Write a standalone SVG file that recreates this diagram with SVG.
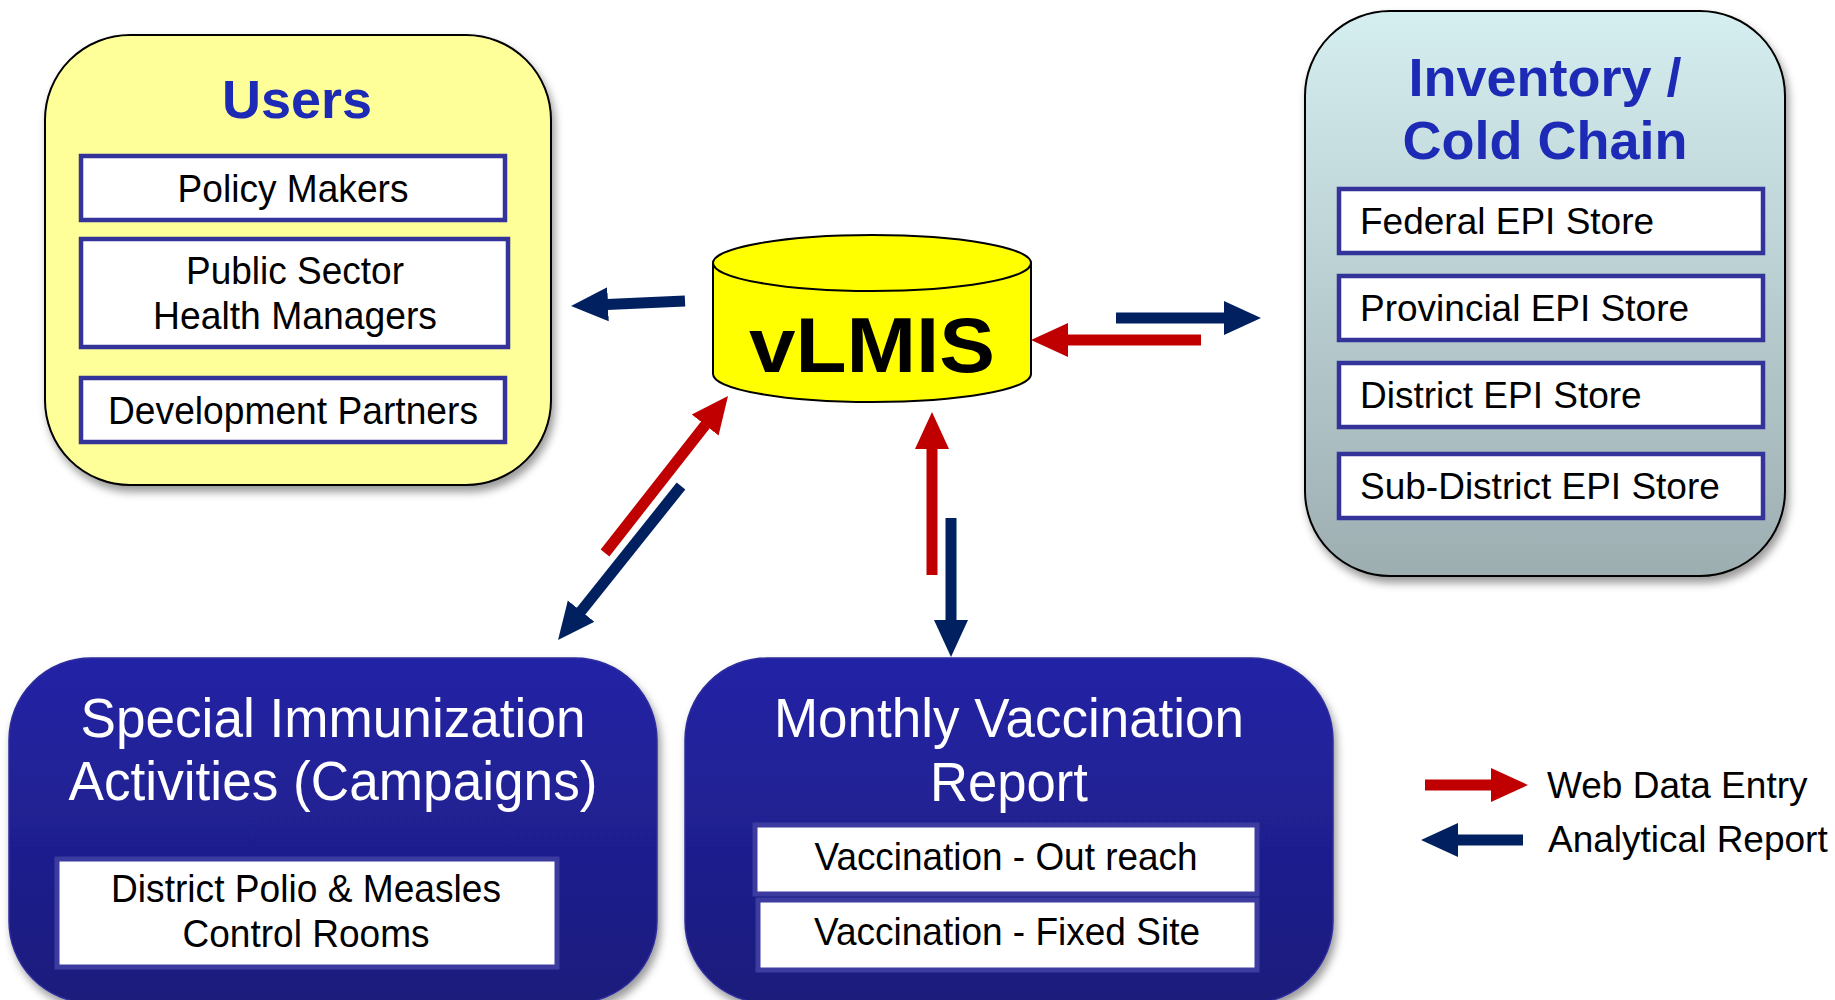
<svg xmlns="http://www.w3.org/2000/svg" width="1835" height="1000" viewBox="0 0 1835 1000">
<defs>
<style>
text{font-family:"Liberation Sans",Arial,sans-serif;}
.title{font-weight:bold;fill:#1C2AB5;font-size:54px;text-anchor:middle;}
.item{fill:#000;font-size:39px;text-anchor:middle;}
.store{fill:#000;font-size:37px;}
.wtitle{fill:#fff;font-size:55px;text-anchor:middle;}
.ibox{fill:#fff;stroke:#333399;stroke-width:4.5;}
.bbox{fill:#fff;stroke:#3B3BA0;stroke-width:5;}
.red{stroke:#C00000;stroke-width:11;fill:none;marker-end:url(#hr);}
.blue{stroke:#002060;stroke-width:11;fill:none;marker-end:url(#hb);}
.legend{fill:#000;font-size:37px;}
</style>
<filter id="sh" x="-10%" y="-10%" width="125%" height="125%">
<feDropShadow dx="3" dy="6" stdDeviation="4" flood-color="#000" flood-opacity="0.4"/>
</filter>
<linearGradient id="gInv" x1="0" y1="0" x2="0" y2="1">
<stop offset="0" stop-color="#D5EEF0"/>
<stop offset="1" stop-color="#9DAEB1"/>
</linearGradient>
<linearGradient id="gBlue" x1="0" y1="0" x2="0" y2="1">
<stop offset="0" stop-color="#2424A6"/>
<stop offset="1" stop-color="#1B1B7C"/>
</linearGradient>
<marker id="hr" markerUnits="userSpaceOnUse" viewBox="-1 -18 38 36" markerWidth="38" markerHeight="36" refX="0" refY="0" orient="auto">
<path d="M-1,-17 L36,0 L-1,17 Z" fill="#C00000"/>
</marker>
<marker id="hb" markerUnits="userSpaceOnUse" viewBox="-1 -18 38 36" markerWidth="38" markerHeight="36" refX="0" refY="0" orient="auto">
<path d="M-1,-17 L36,0 L-1,17 Z" fill="#002060"/>
</marker>
</defs>
<rect width="1835" height="1000" fill="#fff"/>

<g id="users">
<rect x="45" y="35" width="506" height="450" rx="85" ry="85" fill="#FFFF99" stroke="#000" stroke-width="2" filter="url(#sh)"/>
<text class="title" x="297" y="118">Users</text>
<rect class="ibox" x="81" y="156" width="424" height="64"/>
<text class="item" x="293" y="202" textLength="231" lengthAdjust="spacingAndGlyphs">Policy Makers</text>
<rect class="ibox" x="81" y="239" width="427" height="108"/>
<text class="item" x="295" y="284" textLength="218" lengthAdjust="spacingAndGlyphs">Public Sector</text>
<text class="item" x="295" y="329" textLength="284" lengthAdjust="spacingAndGlyphs">Health Managers</text>
<rect class="ibox" x="81" y="378" width="424" height="64"/>
<text class="item" x="293" y="424" textLength="370" lengthAdjust="spacingAndGlyphs">Development Partners</text>
</g>

<g id="vlmis">
<path d="M713,263 V374 A159,28 0 0 0 1031,374 V263 Z" fill="#FFFF00" stroke="#000" stroke-width="2"/>
<ellipse cx="872" cy="263" rx="159" ry="28" fill="#FFFF00" stroke="#000" stroke-width="2"/>
<text x="872" y="372" font-size="78" font-weight="bold" text-anchor="middle" textLength="246" lengthAdjust="spacingAndGlyphs">vLMIS</text>
</g>

<g id="inventory">
<rect x="1305" y="11" width="480" height="565" rx="85" ry="85" fill="url(#gInv)" stroke="#000" stroke-width="2" filter="url(#sh)"/>
<text class="title" x="1545" y="96">Inventory /</text>
<text class="title" x="1545" y="159">Cold Chain</text>
<rect class="ibox" x="1339" y="189" width="424" height="64"/>
<text class="store" x="1360" y="234">Federal EPI Store</text>
<rect class="ibox" x="1339" y="276" width="424" height="64"/>
<text class="store" x="1360" y="321">Provincial EPI Store</text>
<rect class="ibox" x="1339" y="363" width="424" height="64"/>
<text class="store" x="1360" y="408">District EPI Store</text>
<rect class="ibox" x="1339" y="454" width="424" height="64"/>
<text class="store" x="1360" y="499">Sub-District EPI Store</text>
</g>

<g id="sia">
<rect x="9" y="658" width="648" height="345" rx="82" ry="82" fill="url(#gBlue)" stroke="#2E2E9C" stroke-width="1.5" filter="url(#sh)"/>
<text class="wtitle" x="333" y="737" textLength="505" lengthAdjust="spacingAndGlyphs">Special Immunization</text>
<text class="wtitle" x="333" y="800" textLength="529" lengthAdjust="spacingAndGlyphs">Activities (Campaigns)</text>
<rect class="bbox" x="57" y="859" width="500" height="108"/>
<text class="item" x="306" y="902" textLength="390" lengthAdjust="spacingAndGlyphs">District Polio &amp; Measles</text>
<text class="item" x="306" y="947" textLength="247" lengthAdjust="spacingAndGlyphs">Control Rooms</text>
</g>

<g id="monthly">
<rect x="685" y="658" width="648" height="345" rx="82" ry="82" fill="url(#gBlue)" stroke="#2E2E9C" stroke-width="1.5" filter="url(#sh)"/>
<text class="wtitle" x="1009" y="737" textLength="470" lengthAdjust="spacingAndGlyphs">Monthly Vaccination</text>
<text class="wtitle" x="1009" y="801" textLength="158" lengthAdjust="spacingAndGlyphs">Report</text>
<rect class="bbox" x="755" y="825" width="502" height="69"/>
<text class="item" x="1006" y="870" textLength="383" lengthAdjust="spacingAndGlyphs">Vaccination - Out reach</text>
<rect class="bbox" x="758" y="900" width="499" height="70"/>
<text class="item" x="1007" y="945" textLength="386" lengthAdjust="spacingAndGlyphs">Vaccination - Fixed Site</text>
</g>

<g id="connectors">
<line class="blue" x1="685" y1="301" x2="607" y2="304.4"/>
<line class="blue" x1="1116" y1="318" x2="1225" y2="318"/>
<line class="red" x1="1201" y1="340" x2="1067" y2="340"/>
<line class="red" x1="605" y1="553" x2="705.8" y2="424.3"/>
<line class="blue" x1="681" y1="486" x2="580.5" y2="611.9"/>
<line class="red" x1="932" y1="575" x2="932" y2="448"/>
<line class="blue" x1="951" y1="518" x2="951" y2="621"/>
</g>

<g id="legend">
<line class="red" x1="1425" y1="785" x2="1492" y2="785"/>
<line class="blue" x1="1523" y1="840" x2="1457" y2="840"/>
<text class="legend" x="1547" y="798">Web Data Entry</text>
<text class="legend" x="1548" y="852">Analytical Report</text>
</g>
</svg>
